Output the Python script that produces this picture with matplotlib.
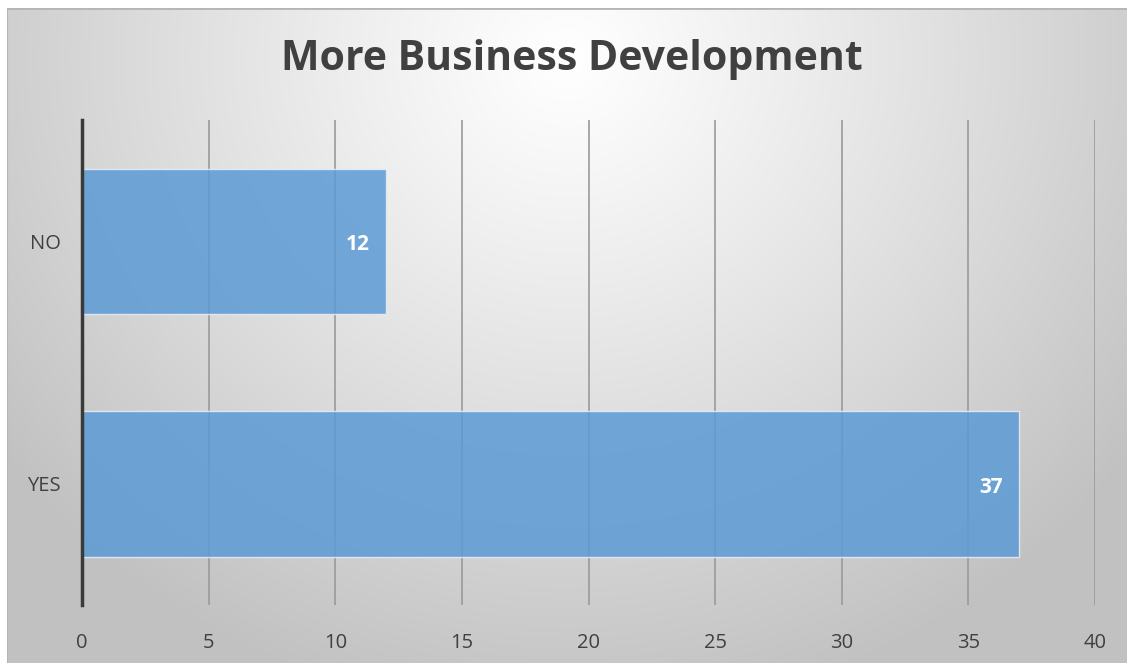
import numpy as np
import matplotlib
matplotlib.use('Agg')
import matplotlib.pyplot as plt

# данные
categories = ['YES', 'NO']
counts = [37, 12]
x_ticks = [0, 5, 10, 15, 20, 25, 30, 35, 40]
title = 'More Business Development'

W, H = 1127, 663
fig = plt.figure(figsize=(W / 100, H / 100), dpi=100)
fig.patch.set_facecolor('white')

# фон: радиальный градиент как в Excel
bg = fig.add_axes([7 / W, 0, 1 - 7 / W, 1 - 8 / H])
bg.set_axis_off()
yy, xx = np.mgrid[0:655, 0:1120]
cx, cy = 560, 50
d = np.sqrt(((xx - cx) / 700.0) ** 2 + ((yy - cy) / 660.0) ** 2)
d = np.clip(d, 0, 1)
shade = 1.0 - 0.24 * d ** 1.1
img = np.dstack([shade, shade, shade])
bg.imshow(img, aspect='auto', extent=(0, 1, 0, 1), origin='upper')
bg.set_xlim(0, 1)
bg.set_ylim(0, 1)
bg.axhline(1, color='#b5b5b5', lw=2)
bg.axvline(0, color='#b5b5b5', lw=1.5)

ax = fig.add_axes([82 / W, (H - 605) / H, (1095 - 82) / W, (605 - 120) / H])
ax.patch.set_alpha(0)

bars = ax.barh(range(len(categories)), counts, height=0.6,
               color='#5b9bd5', alpha=0.85, edgecolor='#e8eef6', linewidth=1, zorder=3)
for i, v in enumerate(counts):
    ax.text(v - 0.65, i - 0.015, str(v), ha='right', va='center', color='white',
            fontsize=15, fontweight='bold', family='Open Sans', zorder=4)

ax.set_xlim(0, 40)
ax.set_ylim(-0.5, 1.5)
ax.set_xticks(x_ticks)
ax.set_xticklabels([str(t) for t in x_ticks], family='Open Sans', fontsize=14.5, color='#404040')
ax.set_yticks(range(len(categories)))
ax.set_yticklabels(categories, family='Open Sans', fontsize=14.5, color='#404040')
ax.tick_params(axis='both', length=0)
ax.tick_params(axis='x', pad=20)
ax.tick_params(axis='y', pad=15)
ax.grid(axis='x', color='#9a9a9a', lw=1.2, zorder=1)
ax.set_axisbelow(True)
for s in ['top', 'right', 'bottom']:
    ax.spines[s].set_visible(False)
ax.spines['left'].set_color('#3a3a3a')
ax.spines['left'].set_linewidth(2.5)
ax.spines['left'].set_zorder(5)

fig.text(572 / W, 1 - 60 / H, title, ha='center', va='center',
         fontsize=29.5, fontweight='bold', color='#404040', family='Open Sans')

fig.savefig('out.png', dpi=100)
